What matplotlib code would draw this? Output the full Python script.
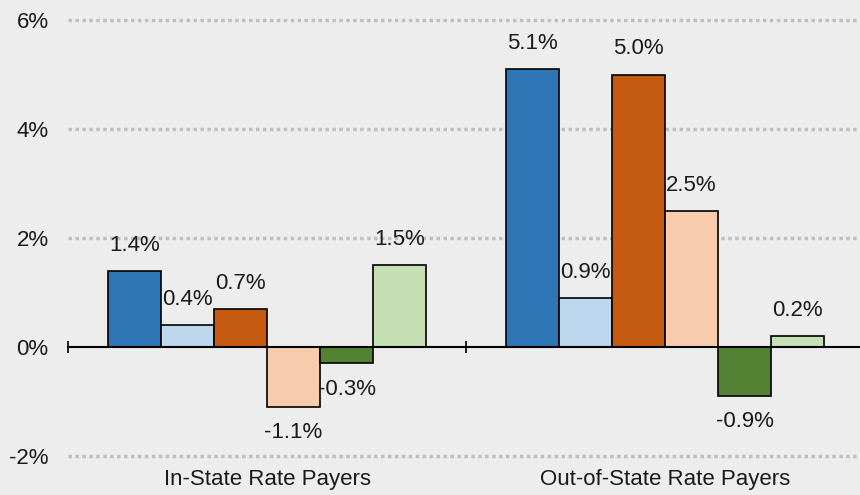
import matplotlib

matplotlib.use("Agg")
import matplotlib.pyplot as plt
import matplotlib.transforms as mtransforms
import numpy as np

plt.rcParams["font.family"] = ["Liberation Sans", "DejaVu Sans"]

categories = ["In-State Rate Payers", "Out-of-State Rate Payers"]
series_values = [
    [1.4, 5.1],
    [0.4, 0.9],
    [0.7, 5.0],
    [-1.1, 2.5],
    [-0.3, -0.9],
    [1.5, 0.2],
]
colors = ["#2E75B6", "#BDD7EE", "#C55A11", "#F8CBAD", "#548235", "#C5E0B4"]
y_ticks = [-2, 0, 2, 4, 6]

BG = "#EDEDED"

fig = plt.figure(figsize=(8.6, 4.95), dpi=100, facecolor=BG)
ax = fig.add_axes([68 / 860, 39 / 495, 796 / 860, 436 / 495])
ax.set_facecolor(BG)

n = len(series_values)
group_width = 0.8
bar_w = group_width / n
centers = np.arange(len(categories)) + 0.5

for i, (vals, col) in enumerate(zip(series_values, colors)):
    xs = centers - group_width / 2 + bar_w * (i + 0.5)
    ax.bar(xs, vals, width=bar_w, color=col, edgecolor="black", linewidth=1.2, zorder=3)
    for x, v in zip(xs, vals):
        off = 18.5 if v >= 0 else -18.5
        ax.annotate(f"{v:.1f}%", (x, v), xytext=(0, off), textcoords="offset points",
                    ha="center", va="center", fontsize=16, color="#1a1a1a", zorder=4)

ax.set_xlim(0, len(categories))
ax.set_ylim(-2, 6)

# dotted gridlines
for y in y_ticks:
    if y == 0:
        continue
    ax.axhline(y, color="#BFBFBF", linestyle=(0, (1, 1)), linewidth=2.5, zorder=1, clip_on=False)

for s in ["top", "right", "left"]:
    ax.spines[s].set_visible(False)
ax.spines["bottom"].set_position(("data", 0))
ax.spines["bottom"].set_linewidth(1.5)
ax.spines["bottom"].set_zorder(5)

ax.set_xticks(np.arange(len(categories) + 1))
ax.set_xticklabels([])
ax.tick_params(axis="x", direction="inout", length=8, width=1.2, color="black")

ax.set_yticks(y_ticks)
ax.set_yticklabels([f"{t}%" for t in y_ticks], fontsize=16, color="#1a1a1a")
ax.tick_params(axis="y", length=0, pad=14)

trans = mtransforms.blended_transform_factory(ax.transData, ax.transAxes)
for c, label in zip(centers, categories):
    ax.text(c, -0.055, label, transform=trans, ha="center", va="center",
            fontsize=16, color="#1a1a1a")

fig.savefig("out.png", dpi=100, facecolor=BG)
